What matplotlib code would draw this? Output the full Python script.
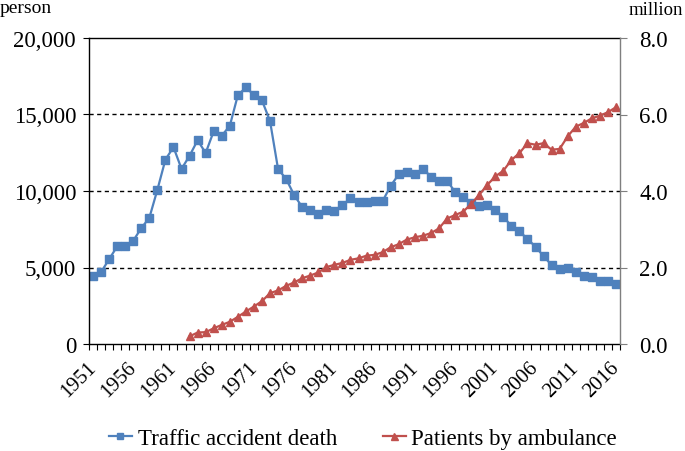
import numpy as np
import matplotlib
matplotlib.use('Agg')
from matplotlib import pyplot as plt
from matplotlib.ticker import FuncFormatter, FixedLocator

plt.rcParams['font.family'] = ['Liberation Serif', 'DejaVu Serif']

# data
years = list(range(1951, 2017))
deaths = [4429, 4696, 5544, 6374, 6379, 6751, 7575, 8248, 10079, 12055,
          12865, 11445, 12301, 13318, 12484, 13904, 13618, 14256, 16257, 16765,
          16278, 15918, 14574, 11432, 10792, 9734, 8945, 8783, 8466, 8760,
          8719, 9073, 9520, 9262, 9261, 9317, 9347, 10344, 11086, 11227,
          11105, 11451, 10942, 10649, 10679, 9942, 9640, 9211, 9006, 9066,
          8747, 8326, 7702, 7358, 6871, 6352, 5744, 5155, 4914, 4948,
          4691, 4438, 4388, 4113, 4117, 3904]
amb_years = list(range(1963, 2017))
ambulance = [0.20, 0.30, 0.31, 0.41, 0.50, 0.58, 0.71, 0.85, 0.98, 1.12,
             1.33, 1.40, 1.52, 1.61, 1.72, 1.79, 1.87, 2.01, 2.07, 2.12,
             2.20, 2.24, 2.31, 2.33, 2.40, 2.53, 2.61, 2.73, 2.79, 2.83,
             2.90, 3.02, 3.28, 3.37, 3.46, 3.66, 3.90, 4.16, 4.38, 4.53,
             4.81, 4.99, 5.25, 5.21, 5.25, 5.08, 5.10, 5.43, 5.68, 5.78,
             5.90, 5.97, 6.06, 6.19]
year_labels = list(range(1951, 2017, 5))
left_ticks = [0, 5000, 10000, 15000, 20000]
right_ticks = [0, 2, 4, 6, 8]

blue = '#4F81BD'
red = '#C0504D'

fig = plt.figure(figsize=(6.85, 4.52), dpi=100)
ax = fig.add_axes([89/685, 1-345/452, 531/685, 306/452])
ax2 = ax.twinx()

l1, = ax.plot(years, deaths, color=blue, lw=1.6, marker='s', ms=5.2,
              label='Traffic accident death')
l2, = ax2.plot(amb_years, ambulance, color=red, lw=1.6, marker='^', ms=6.3,
               label='Patients by ambulance')

ax.set_xlim(1950.5, 2016.5)
ax.set_ylim(0, 20000)
ax2.set_ylim(0, 8)

ax.set_yticks(left_ticks)
ax.yaxis.set_major_formatter(FuncFormatter(lambda v, p: f'{int(v):,}'))
ax2.set_yticks(right_ticks)
ax2.yaxis.set_major_formatter(FuncFormatter(lambda v, p: f'{v:.1f}'))

ax.set_xticks(year_labels)
ax.set_xticklabels([str(y) for y in year_labels], rotation=45, ha='right',
                   va='center', rotation_mode='anchor', fontsize=15)
ax.xaxis.set_minor_locator(FixedLocator(np.arange(1950.5, 2017, 1)))
ax.tick_params(axis='x', which='major', length=0, pad=15)
ax.tick_params(axis='x', which='minor', length=4.3, direction='out', width=0.8)
ax.tick_params(axis='y', length=4.3, direction='out', width=0.8, labelsize=16.5, pad=5)
ax2.tick_params(axis='y', length=5, direction='out', width=0.8, labelsize=16.5, pad=9,
                color='#7f7f7f')

for g in [5000, 10000, 15000]:
    ax.axhline(g, color='black', lw=1.0, ls=(0, (3, 2.5)), zorder=0)

for s in ['left', 'bottom', 'top']:
    ax.spines[s].set_color('black')
    ax.spines[s].set_linewidth(1.0)
ax.spines['right'].set_visible(False)
ax2.spines['right'].set_color('#7f7f7f')
ax2.spines['right'].set_linewidth(1.0)
for s in ['left', 'bottom', 'top']:
    ax2.spines[s].set_visible(False)

fig.text(0.0, 1-13/452, 'person', fontsize=14, va='baseline', ha='left')
fig.text(629/685, 1-15/452, 'million', fontsize=13.5, va='baseline', ha='left')

fig.legend(handles=[l1, l2], loc='center', bbox_to_anchor=(363/685, 1-439/452),
           ncol=2, frameon=False, fontsize=16.5, handlelength=1.0,
           handletextpad=0.25, columnspacing=2.0, markerscale=0.8)

fig.savefig('out.png', dpi=100)
